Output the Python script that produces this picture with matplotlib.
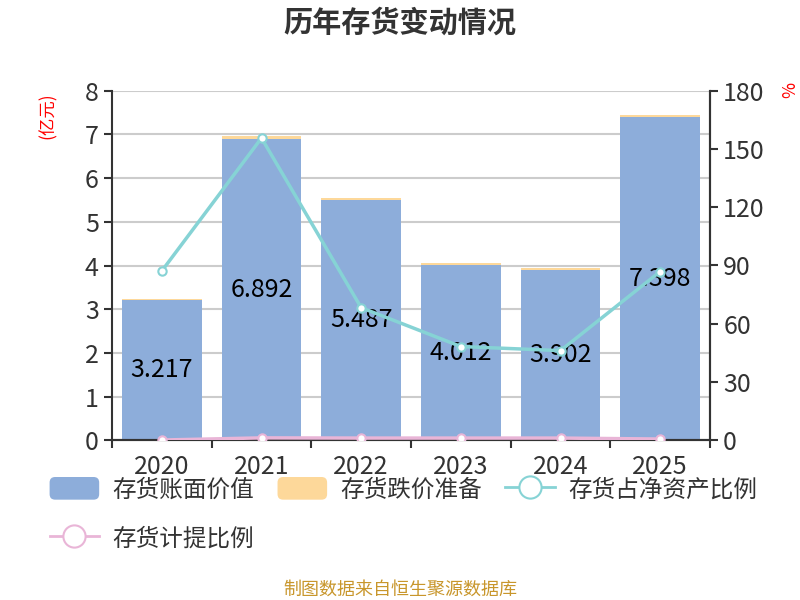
import matplotlib
matplotlib.use("Agg")
import matplotlib.pyplot as plt
from matplotlib.patches import FancyBboxPatch, Patch
from matplotlib.legend_handler import HandlerPatch
from matplotlib.lines import Line2D
import numpy as np

plt.rcParams['font.family'] = ['Noto Sans CJK SC', 'DejaVu Sans']

years = ["2020", "2021", "2022", "2023", "2024", "2025"]
book_value = [3.217, 6.892, 5.487, 4.012, 3.902, 7.398]      # 亿元
impairment = [0.01, 0.08, 0.06, 0.04, 0.04, 0.05]          # 亿元
ratio_net_assets = [87.2, 155.6, 68.3, 48.3, 46.2, 86.9]   # %
ratio_provision = [0.2, 1.3, 1.2, 1.2, 1.2, 0.7]           # %

blue = '#8DADDA'
yellow = '#FDD89A'
cyan = '#86D3D5'
pink = '#E9B5D7'
dark = '#333333'


class RoundedHandler(HandlerPatch):
    def create_artists(self, legend, orig_handle, xdescent, ydescent,
                       width, height, fontsize, trans):
        p = FancyBboxPatch((-xdescent, -ydescent), width, height,
                           boxstyle='round,pad=0,rounding_size=4',
                           facecolor=orig_handle.get_facecolor(),
                           edgecolor='none', transform=trans)
        return [p]


fig = plt.figure(figsize=(8, 6), dpi=100)
ax = fig.add_axes([0.14, 0.266, 0.7475, 0.583])
ax2 = ax.twinx()

x = np.arange(len(years))
ax.bar(x, book_value, width=0.8, color=blue, zorder=2)
ax.bar(x, impairment, width=0.8, bottom=book_value, color=yellow, zorder=2)

for xi, v in zip(x, book_value):
    ax.text(xi, v / 2, f"{v:.3f}", ha='center', va='center', fontsize=18,
            color='black', zorder=3)

ax.set_xlim(-0.5, 5.5)
ax.set_ylim(0, 8)
ax.set_yticks(range(0, 9))
ax.grid(axis='y', color='#cccccc', linewidth=1.5, zorder=0)
ax.set_axisbelow(True)
ax.set_xticks(x)
ax.set_xticklabels(years)
ax.set_xticks(np.arange(-0.5, 6, 1), minor=True)
ax.tick_params(axis='x', which='major', length=0, labelsize=18, colors=dark, pad=10)
ax.tick_params(axis='x', which='minor', length=6, width=1.5, color=dark)
ax.tick_params(axis='y', length=6, width=1.5, labelsize=18, colors=dark)

ax2.set_ylim(0, 180)
ax2.set_yticks(range(0, 181, 30))
ax2.tick_params(axis='y', length=6, width=1.5, labelsize=18, colors=dark)
ax2.plot(x, ratio_net_assets, color=cyan, lw=2.5, marker='o', ms=6,
         mfc='white', mec=cyan, mew=1.5, zorder=4)
ax2.plot(x, ratio_provision, color=pink, lw=2.5, marker='o', ms=6,
         mfc='white', mec=pink, mew=1.5, zorder=4)

for a in (ax, ax2):
    a.spines['top'].set_visible(False)
    for s in ('left', 'right', 'bottom'):
        a.spines[s].set_color(dark)
        a.spines[s].set_linewidth(1.5)
ax2.spines['left'].set_visible(False)

fig.text(0.5, 0.963, "历年存货变动情况", ha='center', va='center',
         fontsize=21, fontweight='bold', color=dark)
fig.text(0.06, 0.808, "(亿元)", rotation=90, ha='center', va='center',
         fontsize=12.5, color='red')
fig.text(0.982, 0.85, "%", rotation=-90, ha='center', va='center',
         fontsize=12.5, color='red')
fig.text(0.5, 0.017, "制图数据来自恒生聚源数据库", ha='center', va='center',
         fontsize=13, color='#C8962B')

h_blue = Patch(facecolor=blue)
h_yellow = Patch(facecolor=yellow)
h_cyan = Line2D([], [], color=cyan, lw=2, marker='o', ms=16, mfc='white',
                mec=cyan, mew=1.5)
h_pink = Line2D([], [], color=pink, lw=2, marker='o', ms=16, mfc='white',
                mec=pink, mew=1.5)
handles = [h_blue, h_pink, h_yellow, h_cyan]
labels = ["存货账面价值", "存货计提比例", "存货跌价准备", "存货占净资产比例"]
leg = fig.legend(handles, labels, ncol=3, loc='upper left',
                 bbox_to_anchor=(0.062, 0.205), frameon=False, fontsize=17,
                 handlelength=2.1, handleheight=1.1, handletextpad=0.55,
                 columnspacing=1.0, labelspacing=1.05, borderaxespad=0,
                 borderpad=0, handler_map={Patch: RoundedHandler()})
for t in leg.get_texts():
    t.set_color(dark)

fig.savefig("out.png", dpi=100)
